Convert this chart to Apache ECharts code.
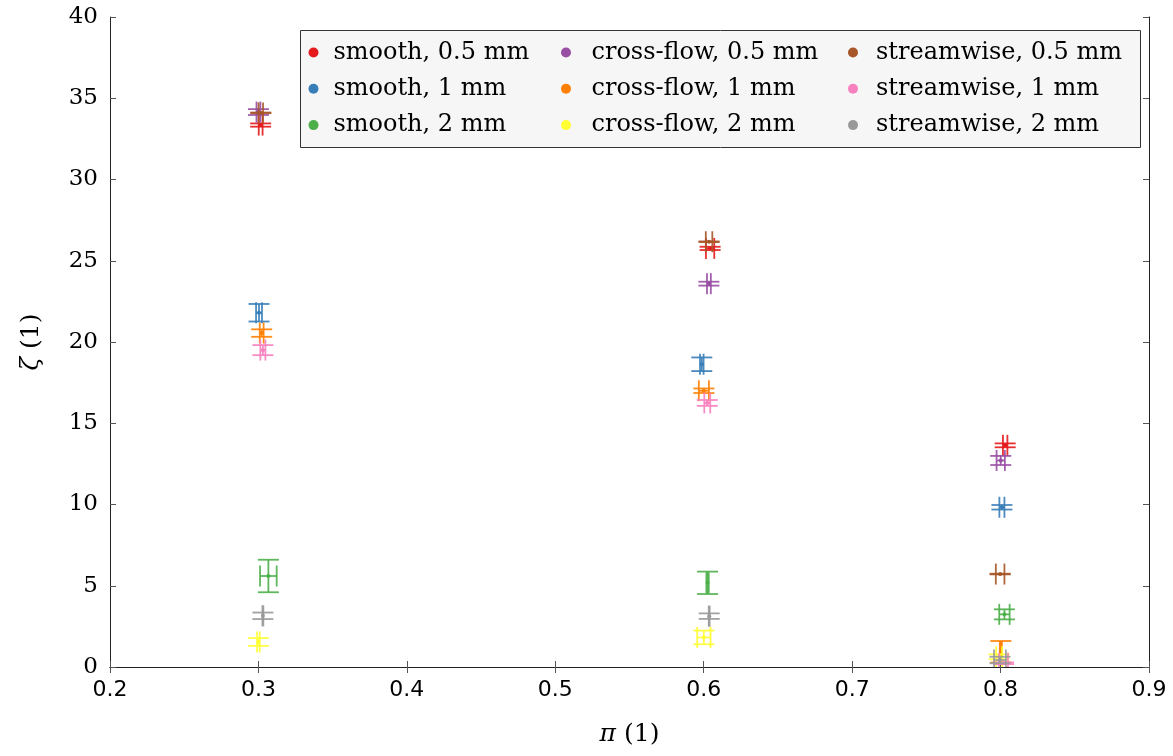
<!DOCTYPE html>
<html>
<head>
<meta charset="utf-8">
<script src="https://cdn.jsdelivr.net/npm/echarts@6/dist/echarts.min.js"></script>
<style>
html,body{margin:0;padding:0;background:#fff;}
#chart{width:1173px;height:756px;}
</style>
</head>
<body>
<div id="chart"></div>
<script>
// Each point: [x (π), y (ζ), x error, y error]
const seriesNames = [
  'smooth, 0.5 mm', 'smooth, 1 mm', 'smooth, 2 mm',
  'cross-flow, 0.5 mm', 'cross-flow, 1 mm', 'cross-flow, 2 mm',
  'streamwise, 0.5 mm', 'streamwise, 1 mm', 'streamwise, 2 mm'
];
const smooth05 = [[0.3015, 33.35, 0.0013, 0.10], [0.6043, 25.76, 0.0028, 0.10], [0.8031, 13.64, 0.0015, 0.12]];
const smooth1 = [[0.3004, 21.80, 0.0020, 0.54], [0.5987, 18.63, 0.0012, 0.42], [0.8009, 9.83, 0.0017, 0.14]];
const smooth2 = [[0.3067, 5.60, 0.0056, 1.00], [0.6026, 5.18, 0.0008, 0.69], [0.8026, 3.24, 0.0035, 0.31]];
const cross05 = [[0.3000, 34.15, 0.0013, 0.18], [0.6035, 23.59, 0.0013, 0.12], [0.8001, 12.71, 0.0028, 0.28]];
const cross1 = [[0.3022, 20.55, 0.0013, 0.23], [0.6001, 17.00, 0.0034, 0.14], [0.8002, 0.94, 0.0007, 0.66]];
const cross2 = [[0.3000, 1.54, 0.0009, 0.24], [0.6001, 1.82, 0.0045, 0.42], [0.7990, 0.63, 0.0020, 0.15]];
const stream05 = [[0.3016, 34.10, 0.0015, 0.02], [0.6036, 26.17, 0.0022, 0.02], [0.7997, 5.72, 0.0029, 0.02]];
const stream1 = [[0.3030, 19.50, 0.0017, 0.31], [0.6024, 16.25, 0.0020, 0.18], [0.8020, 0.23, 0.0030, 0.05]];
const stream2 = [[0.3030, 3.15, 0.0003, 0.20], [0.6037, 3.13, 0.0003, 0.17], [0.7996, 0.43, 0.0040, 0.20]];
const seriesData = [smooth05, smooth1, smooth2, cross05, cross1, cross2, stream05, stream1, stream2];
const seriesColors = ['#e41a1c', '#377eb8', '#4daf4a', '#984ea3', '#ff7f00', '#ffff33', '#a65628', '#f781bf', '#999999'];
const xTicks = { min: 0.2, max: 0.9, interval: 0.1 };
const yTicks = { min: 0, max: 40, interval: 5 };

const chart = echarts.init(document.getElementById('chart'), null, { renderer: 'canvas' });

const CAP = 10.5;
function renderErr(params, api) {
  const x = api.value(0), y = api.value(1), xe = api.value(2), ye = api.value(3);
  const c = api.coord([x, y]);
  const l = api.coord([x - xe, y]), r = api.coord([x + xe, y]);
  const t = api.coord([x, y + ye]), b = api.coord([x, y - ye]);
  const color = api.visual('color');
  const st = { stroke: color, lineWidth: 1.8, opacity: 0.9 };
  const line = (x1, y1, x2, y2) => ({ type: 'line', shape: { x1, y1, x2, y2 }, style: st });
  return {
    type: 'group',
    children: [
      line(l[0], c[1], r[0], c[1]),
      line(l[0], c[1] - CAP, l[0], c[1] + CAP),
      line(r[0], c[1] - CAP, r[0], c[1] + CAP),
      line(c[0], t[1], c[0], b[1]),
      line(c[0] - CAP, t[1], c[0] + CAP, t[1]),
      line(c[0] - CAP, b[1], c[0] + CAP, b[1]),
      { type: 'circle', shape: { cx: c[0], cy: c[1], r: 2 }, style: { fill: color } }
    ]
  };
}

const series = seriesNames.map((name, i) => ({
  name,
  type: 'custom',
  renderItem: renderErr,
  clip: true,
  itemStyle: { color: seriesColors[i] },
  encode: { x: 0, y: 1 },
  data: seriesData[i]
}));

const legendFont = { fontFamily: 'DejaVu Serif', fontSize: 24, color: '#000', lineHeight: 24 };
function col(names, left, pad) {
  return {
    orient: 'vertical', left, top: 40.5, padding: 0, itemGap: 12.3,
    itemWidth: 10, itemHeight: 10, icon: 'circle',
    textStyle: Object.assign({ padding: [0, 0, 0, pad] }, legendFont),
    data: names
  };
}

const axisLine = { show: true, lineStyle: { color: '#222', width: 1 } };
const tick = { show: true, inside: true, length: 6, lineStyle: { color: '#555' } };
const nameStyle = {
  color: '#000', fontFamily: 'DejaVu Serif', fontSize: 25,
  rich: { i: { fontStyle: 'italic', fontFamily: 'DejaVu Serif', fontSize: 25, color: '#000' } }
};

const option = {
  animation: false,
  backgroundColor: '#fff',
  grid: { left: 110, right: 24, top: 17, bottom: 89 },
  graphic: [{
    type: 'rect', left: 300, top: 30, z: -1,
    shape: { width: 840, height: 117 },
    style: { fill: '#f6f6f6', stroke: '#333', lineWidth: 1 }
  }],
  legend: [
    col(seriesNames.slice(0, 3), 308.5, 10),
    col(seriesNames.slice(3, 6), 561, 15.5),
    col(seriesNames.slice(6, 9), 848, 13)
  ],
  xAxis: [{
    type: 'value', position: 'bottom',
    min: xTicks.min, max: xTicks.max, interval: xTicks.interval,
    axisLine, axisTick: tick, splitLine: { show: false },
    axisLabel: { margin: 12, color: '#000', fontFamily: 'DejaVu Sans', fontSize: 22, formatter: v => v.toFixed(1) },
    name: '{i|π} (1)', nameLocation: 'middle', nameGap: 55,
    nameTextStyle: nameStyle
  }, {
    type: 'value', position: 'top',
    min: xTicks.min, max: xTicks.max, interval: xTicks.interval,
    axisLine, axisTick: tick, axisLabel: { show: false }, splitLine: { show: false }
  }],
  yAxis: [{
    type: 'value', position: 'left',
    min: yTicks.min, max: yTicks.max, interval: yTicks.interval,
    axisLine, axisTick: tick, splitLine: { show: false },
    axisLabel: { margin: 12, color: '#000', fontFamily: 'DejaVu Serif', fontSize: 23 },
    name: '{i|ζ} (1)', nameLocation: 'middle', nameGap: 66,
    nameTextStyle: nameStyle
  }, {
    type: 'value', position: 'right',
    min: yTicks.min, max: yTicks.max, interval: yTicks.interval,
    axisLine, axisTick: tick, axisLabel: { show: false }, splitLine: { show: false }
  }],
  series
};
chart.setOption(option);
</script>
</body>
</html>
